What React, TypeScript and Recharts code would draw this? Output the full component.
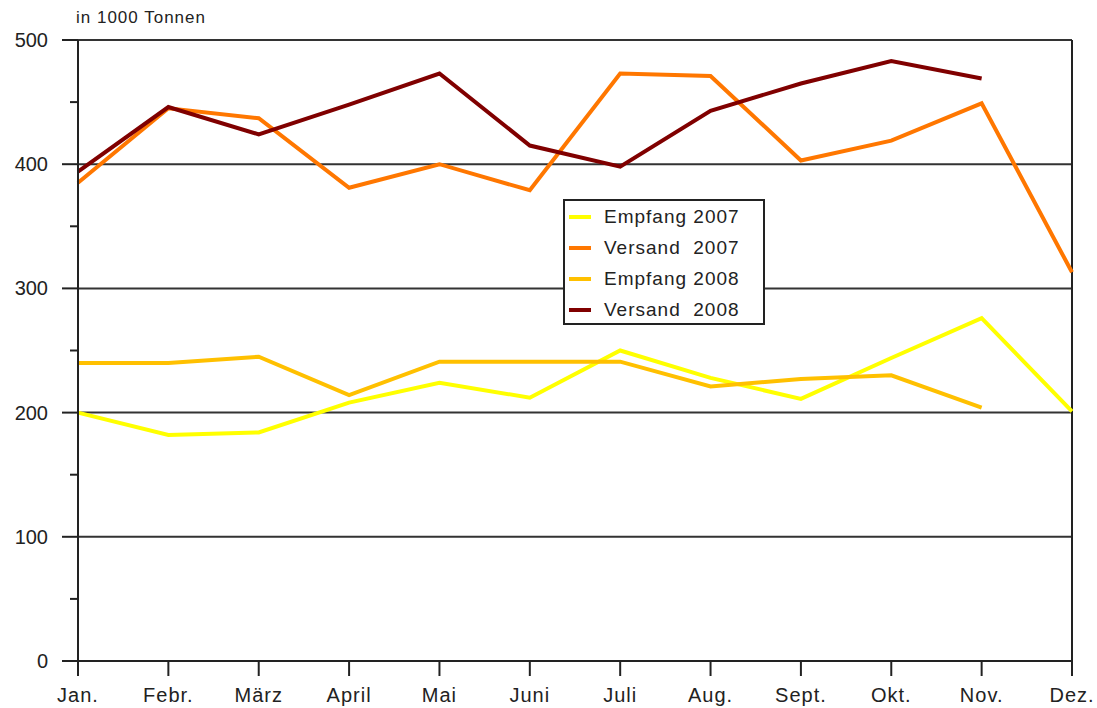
import React from 'react';
import {
  LineChart,
  Line,
  XAxis,
  YAxis,
  CartesianGrid,
  ReferenceLine,
  Legend,
} from 'recharts';

const months = ['Jan.', 'Febr.', 'März', 'April', 'Mai', 'Juni', 'Juli', 'Aug.', 'Sept.', 'Okt.', 'Nov.', 'Dez.'];
const seriesNames = ['Empfang 2007', 'Versand  2007', 'Empfang 2008', 'Versand  2008'];
const empfang2007 = [200, 182, 184, 208, 224, 212, 250, 228, 211, 244, 276, 201];
const versand2007 = [385, 445, 437, 381, 400, 379, 473, 471, 403, 419, 449, 313];
const empfang2008 = [240, 240, 245, 214, 241, 241, 241, 221, 227, 230, 204, null];
const versand2008 = [394, 446, 424, 448, 473, 415, 398, 443, 465, 483, 469, null];
const yTicks = [0, 50, 100, 150, 200, 250, 300, 350, 400, 450, 500];
const gridValues = [100, 200, 300, 400, 500];

const data = months.map((m, i) => ({
  month: m,
  e07: empfang2007[i],
  v07: versand2007[i],
  e08: empfang2008[i],
  v08: versand2008[i],
}));

const FONT = '"Liberation Sans", Arial, sans-serif';
const INK = '#222';

// Y-Achse: lange Striche bei Hundertern, kurze bei Fünfzigern
const YTick = (props: any) => {
  const { x, y, payload } = props;
  const major = payload.value % 100 === 0;
  return (
    <g>
      <line x1={x + (major ? 14 : 22)} x2={x + 30} y1={y} y2={y} stroke={INK} strokeWidth={2} />
      {major && (
        <text x={x} y={y} dy={7} textAnchor="end" fontSize={20} fontFamily={FONT} fill={INK}>
          {payload.value}
        </text>
      )}
    </g>
  );
};

const LegendBox = ({ payload }: any) => (
  <div
    style={{
      border: '2px solid #222',
      background: '#fff',
      width: 202,
      height: 126,
      boxSizing: 'border-box',
      padding: '0 0 0 4px',
      fontFamily: FONT,
      fontSize: 19,
      letterSpacing: 1,
      color: INK,
    }}
  >
    {payload.map((entry: any) => (
      <div key={entry.value} style={{ display: 'flex', alignItems: 'center', height: 31 }}>
        <span style={{ display: 'inline-block', width: 22, height: 4, background: entry.color, marginRight: 13 }} />
        <span style={{ whiteSpace: 'pre' }}>{entry.value}</span>
      </div>
    ))}
  </div>
);

export default function App() {
  return (
    <div style={{ position: 'absolute', left: 0, top: 0, width: 1097, height: 708, background: '#fff' }}>
      <div style={{ position: 'absolute', left: 76, top: 8, fontFamily: FONT, fontSize: 17, letterSpacing: 1, color: INK }}>
        in 1000 Tonnen
      </div>
      <LineChart width={1097} height={708} data={data} margin={{ top: 40, right: 25, left: 0, bottom: 0 }}>
        <CartesianGrid vertical={false} horizontalValues={gridValues} stroke="#333" strokeWidth={2} />
        <ReferenceLine x="Dez." stroke={INK} strokeWidth={2} />
        <XAxis
          dataKey="month"
          height={47}
          tickSize={15}
          tickMargin={12}
          axisLine={{ stroke: INK, strokeWidth: 2 }}
          tickLine={{ stroke: INK, strokeWidth: 2 }}
          tick={{ fontSize: 20, fontFamily: FONT, fill: INK, letterSpacing: 1 }}
          interval={0}
        />
        <YAxis
          width={78}
          domain={[0, 500]}
          ticks={yTicks}
          interval={0}
          tickSize={16}
          tickMargin={14}
          tickLine={false}
          axisLine={{ stroke: INK, strokeWidth: 2 }}
          tick={<YTick />}
        />
        <Legend
          layout="horizontal"
          verticalAlign="middle"
          align="center"
          itemSorter={(item: any) => seriesNames.indexOf(item.value)}
          content={<LegendBox />}
          wrapperStyle={{ left: 563, top: 199, width: 202, height: 126 }}
        />
        <Line dataKey="e07" name={seriesNames[0]} stroke="#FFFF00" strokeWidth={4} dot={false} isAnimationActive={false} />
        <Line dataKey="v07" name={seriesNames[1]} stroke="#FF7700" strokeWidth={4} dot={false} isAnimationActive={false} />
        <Line dataKey="e08" name={seriesNames[2]} stroke="#FFC000" strokeWidth={4} dot={false} isAnimationActive={false} />
        <Line dataKey="v08" name={seriesNames[3]} stroke="#800000" strokeWidth={4} dot={false} isAnimationActive={false} />
      </LineChart>
    </div>
  );
}
